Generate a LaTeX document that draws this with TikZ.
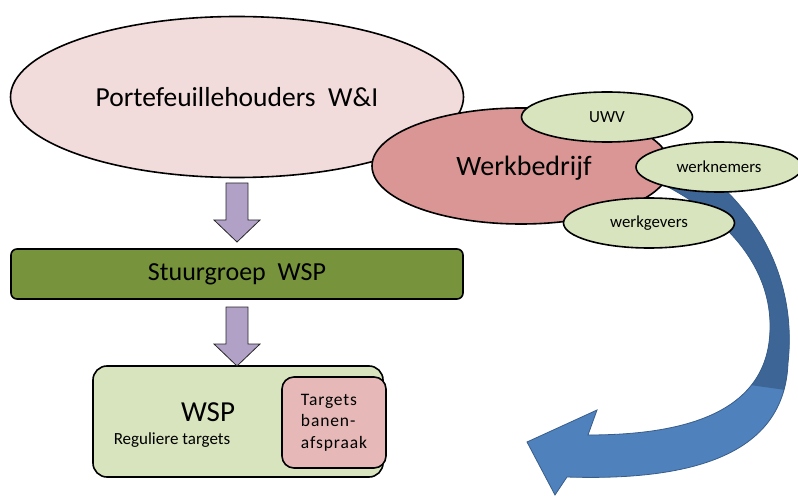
\documentclass[tikz,border=0pt]{standalone}
\usepackage{fontspec}
\setmainfont{Carlito}
\newfontfamily\spacedfont[LetterSpace=5]{Carlito}
\usetikzlibrary{shapes.geometric,calc}
\definecolor{pinkfill}{HTML}{F2DCDB}
\definecolor{redfill}{HTML}{D99694}
\definecolor{greenfill}{HTML}{D7E4BD}
\definecolor{darkgreen}{HTML}{77933C}
\definecolor{rosefill}{HTML}{E6B9B8}
\definecolor{purplefill}{HTML}{B2A1C7}
\definecolor{bluelight}{HTML}{4F81BD}
\definecolor{bluedark}{HTML}{3D6595}
\definecolor{blueline}{HTML}{385D8A}
\tikzset{
  oval/.style={ellipse, draw=black, line width=1.6pt, inner sep=0pt},
  blockarrow/.style={fill=purplefill, draw=black!85, line width=0.8pt},
  roundbox/.style={rectangle, draw=black, line width=1.6pt, inner sep=0pt},
}
\begin{document}
\begin{tikzpicture}[x=1pt,y=-1pt]
\useasboundingbox (0,0) rectangle (798,497);
% blue curved arrow (behind)
\def\bluepath{(700,168) .. controls (775,225) and (795,300) .. (788,363)
   .. controls (785,440) and (720,482) .. (567,477)
   -- (555,495) -- (527,442) -- (597,410) -- (588,435)
   .. controls (690,435) and (768,410) .. (770,330)
   .. controls (772,270) and (730,215) .. (650,178) -- cycle}
\fill[bluelight] \bluepath;
\begin{scope}
  \clip (600,100) -- (800,100) -- (800,392) -- (700,378) -- cycle;
  \fill[bluedark] \bluepath;
\end{scope}
\draw[blueline, line width=0.8pt] \bluepath;
% top ellipse
\node[oval, fill=pinkfill, minimum width=453pt, minimum height=161pt,
  font=\fontsize{27.5}{32}\selectfont] (pf) at (237,97) {Portefeuillehouders\ \ W\&I};
% werkbedrijf
\node[oval, fill=redfill, minimum width=298pt, minimum height=116pt] (wb) at (521,166) {};
\node[font=\fontsize{28}{32}\selectfont, anchor=center] (wbt) at (524,168) {Werkbedrijf};
\node[oval, fill=greenfill, minimum width=171pt, minimum height=50pt,
  font=\fontsize{17}{20}\selectfont] (uwv) at (607,117) {UWV};
\node[oval, fill=greenfill, minimum width=166pt, minimum height=50pt,
  font=\fontsize{16.8}{20}\selectfont] (wn) at (719,167) {werknemers};
\node[oval, fill=greenfill, minimum width=171pt, minimum height=50pt,
  font=\fontsize{16.8}{20}\selectfont] (wg) at (649,223) {werkgevers};
% stuurgroep
\node[roundbox, rounded corners=6pt, fill=darkgreen, minimum width=452pt, minimum height=50pt,
  font=\fontsize{26}{30}\selectfont] (sg) at (237,274) {Stuurgroep\ \ WSP};
% purple arrows
\coordinate (a1) at (237,183);
\coordinate (a2) at (237,307);
\draw[blockarrow] ($(a1)+(-11,0)$) -- ($(a1)+(11,0)$) -- ($(a1)+(11,37)$)
  -- ($(a1)+(23,37)$) -- ($(a1)+(0,59)$) -- ($(a1)+(-23,37)$)
  -- ($(a1)+(-11,37)$) -- cycle;
% WSP box
\node[roundbox, rounded corners=14pt, fill=greenfill, minimum width=290pt, minimum height=111pt] (wsp) at (238,421.5) {};
\draw[blockarrow] ($(a2)+(-11,0)$) -- ($(a2)+(11,0)$) -- ($(a2)+(11,37)$)
  -- ($(a2)+(23,37)$) -- ($(a2)+(0,59)$) -- ($(a2)+(-23,37)$)
  -- ($(a2)+(-11,37)$) -- cycle;
\node[font=\fontsize{29}{33}\selectfont] (wspt) at (208,412) {WSP};
\node[font=\fontsize{17}{20}\selectfont] (reg) at (172,440) {Reguliere targets};
\node[roundbox, rounded corners=12pt, fill=rosefill, minimum width=104pt, minimum height=91pt,
  align=left, font=\spacedfont\fontsize{17.5}{21.5}\selectfont] (tb) at (334,422.5) {Targets\\banen-\\afspraak};
\end{tikzpicture}
\end{document}
